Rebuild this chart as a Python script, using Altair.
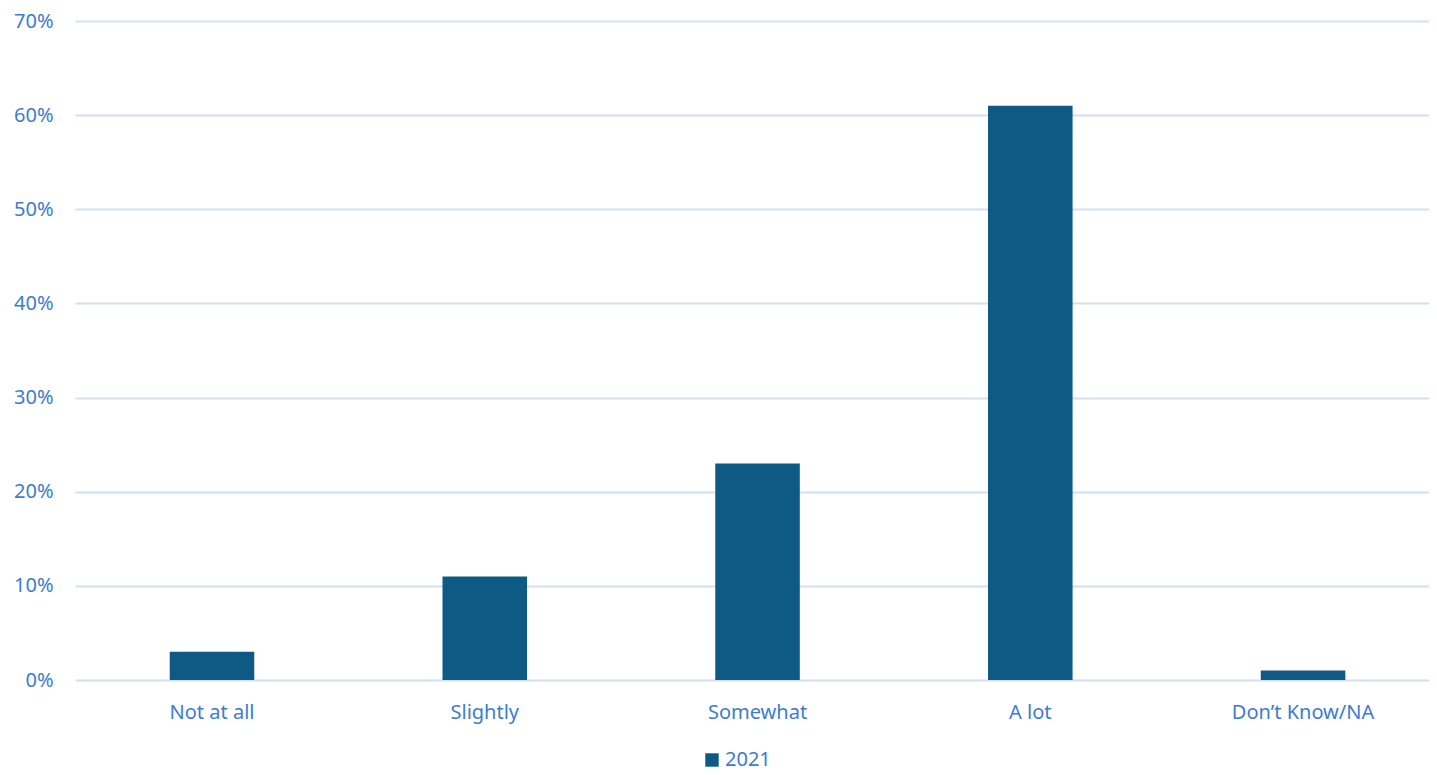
import altair as alt
import pandas as pd

categories = ["Not at all", "Slightly", "Somewhat", "A lot", "Don\u2019t Know/NA"]
values_2021 = [0.03, 0.11, 0.23, 0.61, 0.01]
series_name = "2021"

df = pd.DataFrame({"category": categories, "value": values_2021, "series": [series_name] * len(categories)})

text_color = "#3B7DD0"
bar_color = "#0E5A84"
grid_color = "#D3E0F0"
font = "Noto Sans"

chart = alt.Chart(df).mark_bar(color=bar_color).encode(
    x=alt.X("category:N", sort=categories, title=None,
            scale=alt.Scale(paddingInner=0.69, paddingOuter=0.327, align=0.531),
            axis=alt.Axis(labelAngle=0, labelColor=text_color, labelFontSize=20, labelFont=font,
                          ticks=False, domain=False, labelPadding=22)),
    y=alt.Y("value:Q", title=None,
            scale=alt.Scale(domain=[0, 0.7]),
            axis=alt.Axis(format=".0%", values=[0, 0.1, 0.2, 0.3, 0.4, 0.5, 0.6, 0.7],
                          labelColor=text_color, labelFontSize=20, labelFont=font,
                          ticks=False, domain=False, labelPadding=22,
                          gridColor=grid_color, gridWidth=2)),
    color=alt.Color("series:N", scale=alt.Scale(range=[bar_color]),
                    legend=alt.Legend(orient="none", legendX=627, legendY=729, title=None,
                                      symbolType="square", direction="horizontal",
                                      labelColor=text_color, labelFontSize=20, labelFont=font,
                                      symbolSize=180, symbolStrokeWidth=0, labelOffset=3)),
).properties(width=1354, height=659, padding={"left": 5, "top": 3, "right": 0, "bottom": 4}).configure_view(stroke=None)

chart.save("out.html", embed_options={"renderer": "svg", "actions": False})
